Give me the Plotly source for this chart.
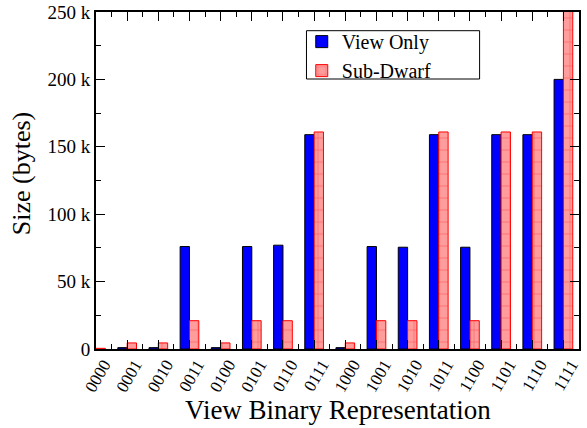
import plotly.graph_objects as go

categories = ["0000", "0001", "0010", "0011", "0100", "0101", "0110", "0111",
              "1000", "1001", "1010", "1011", "1100", "1101", "1110", "1111"]
view_only = [0.5, 1.0, 1.0, 76, 1.0, 76, 77, 159, 1.0, 76, 75.5, 159, 75.5, 159, 159, 200]
sub_dwarf = [0.5, 4.5, 4.5, 21, 4.5, 21, 21, 161, 4.5, 21, 21, 161, 21, 161, 161, 320]
y_tick_vals = [0, 50, 100, 150, 200, 250]
y_tick_text = ["0", "50 k", "100 k", "150 k", "200 k", "250 k"]

x_idx = list(range(len(categories)))
FONT = "Liberation Serif"

fig = go.Figure()
fig.add_trace(go.Bar(
    x=x_idx, y=view_only, name="View Only",
    marker=dict(color="#0000ff", line=dict(color="black", width=1)),
))
fig.add_trace(go.Bar(
    x=x_idx, y=sub_dwarf, name="Sub-Dwarf",
    marker=dict(color="#ff9c9c", line=dict(color="#ff0000", width=1),
                pattern=dict(shape="+", fgcolor="#ff3030", size=12, solidity=0.12)),
))

fig.update_layout(
    width=587, height=428,
    margin=dict(l=96, r=8, t=12, b=79),
    paper_bgcolor="white", plot_bgcolor="white",
    barmode="group", bargap=0.4, bargroupgap=0,
    font=dict(family=FONT, size=16, color="black"),
    showlegend=True,
    legend=dict(x=0.426, y=0.97, xanchor="left", yanchor="top",
                bgcolor="rgba(0,0,0,0)", borderwidth=0,
                font=dict(family=FONT, size=20, color="black"), tracegroupgap=0,
                itemwidth=30),
    xaxis=dict(
        range=[0, 15.5], tickmode="array", tickvals=x_idx, ticktext=categories,
        tickangle=-60, ticks="inside", ticklen=9, tickwidth=1, tickcolor="black",
        ticklabelshift=8, ticklabelstandoff=-3,
        minor=dict(ticks="inside", ticklen=5, tickwidth=1, tickcolor="black",
                   tick0=0.5, dtick=1),
        showline=True, linecolor="black", linewidth=2, mirror="ticks",
        showgrid=False, zeroline=False, automargin=False,
        tickfont=dict(family=FONT, size=17, color="black"),
    ),
    yaxis=dict(
        range=[0, 250], tickmode="array", tickvals=y_tick_vals, ticktext=y_tick_text,
        ticks="inside", ticklen=9, tickwidth=1, tickcolor="black",
        minor=dict(ticks="inside", ticklen=5, tickwidth=1, tickcolor="black",
                   tick0=25, dtick=50),
        showline=True, linecolor="black", linewidth=2, mirror="ticks",
        showgrid=False, zeroline=False, automargin=False,
        tickfont=dict(family=FONT, size=19, color="black"),
    ),
)
# legend frame
fig.add_shape(type="rect", xref="paper", yref="paper",
              x0=(306.7 - 96) / 483.5, x1=(480 - 96) / 483.5,
              y0=(349 - 79) / 337, y1=(349 - 30.7) / 337,
              line=dict(color="black", width=1), fillcolor="white", layer="above")
fig.add_annotation(text="View Binary Representation", xref="paper", yref="paper",
                   x=0.5, y=-0.18, showarrow=False, xanchor="center", yanchor="middle",
                   font=dict(family=FONT, size=27, color="black"))
fig.add_annotation(text="Size (bytes)", xref="paper", yref="paper",
                   x=-0.155, y=0.519, showarrow=False, xanchor="center", yanchor="middle",
                   textangle=-90, font=dict(family=FONT, size=26, color="black"))

fig.write_html("out.html")
